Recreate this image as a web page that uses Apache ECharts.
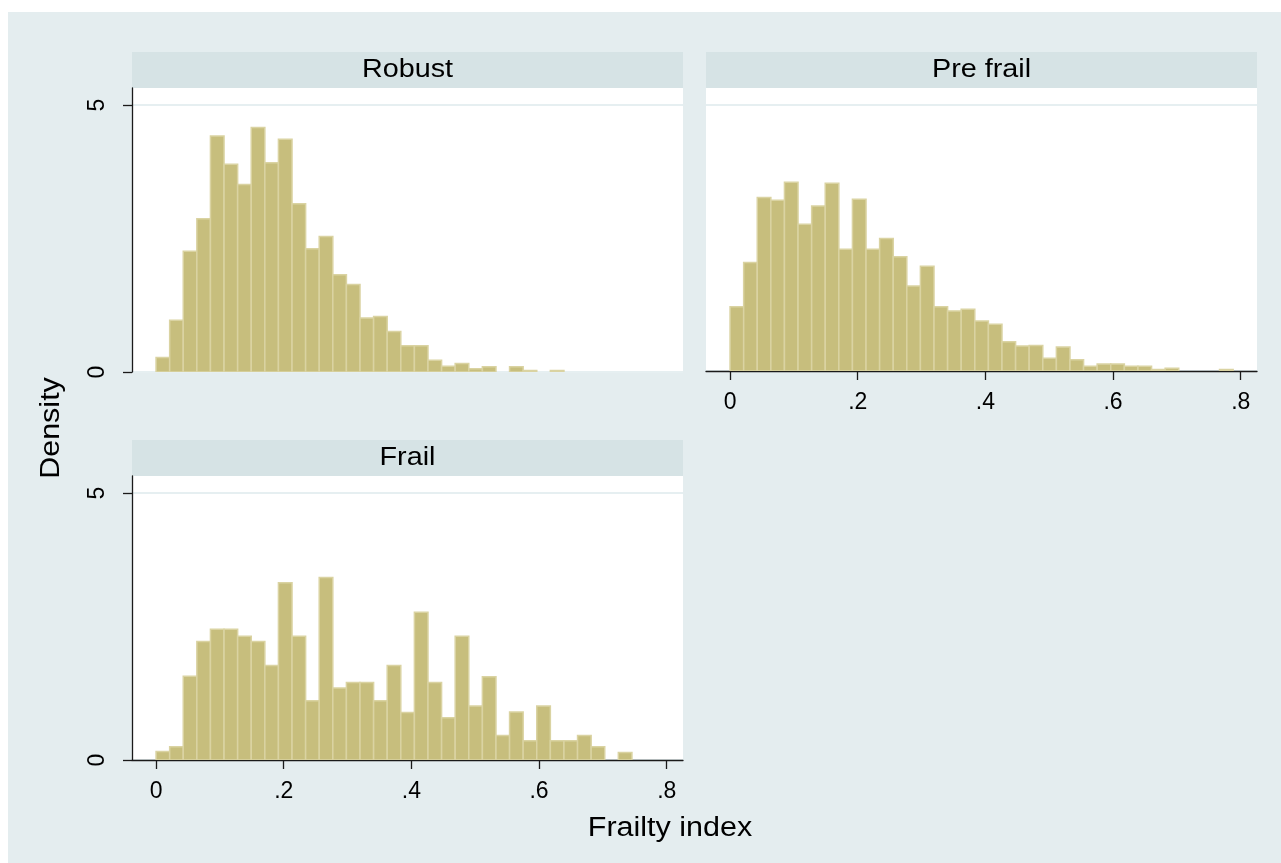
<!DOCTYPE html>
<html>
<head>
<meta charset="utf-8">
<script src="https://cdn.jsdelivr.net/npm/echarts@6/dist/echarts.min.js"></script>
<style>
html,body{margin:0;padding:0;background:#fff;}
#chart{width:1281px;height:863px;}
</style>
</head>
<body>
<div id="chart"></div>
<script>
// ---- data ----
const panelTitles = ['Robust', 'Pre frail', 'Frail'];
const xTitle = 'Frailty index';
const yTitle = 'Density';
const binWidth = 0.0213;
const binStart = 0;
const robust = [0.27,0.97,2.26,2.87,4.42,3.89,3.51,4.58,3.92,4.36,3.15,2.31,2.54,1.82,1.64,1.01,1.04,0.76,0.49,0.49,0.22,0.11,0.16,0.06,0.10,0,0.10,0.03,0,0.03];
const preFrail = [1.21,2.04,3.26,3.21,3.55,2.76,3.10,3.53,2.29,3.23,2.29,2.49,2.15,1.60,1.97,1.21,1.13,1.16,0.94,0.88,0.55,0.47,0.48,0.24,0.45,0.21,0.09,0.13,0.13,0.09,0.09,0.03,0.05,0,0,0,0.03];
const frail = [0.16,0.25,1.57,2.22,2.45,2.45,2.32,2.22,1.77,3.32,2.32,1.11,3.42,1.35,1.45,1.45,1.11,1.77,0.89,2.77,1.45,0.79,2.32,1.01,1.56,0.46,0.90,0.36,1.01,0.36,0.36,0.46,0.25,0,0.14];
const xTicks = [0, 0.2, 0.4, 0.6, 0.8];
const xTickLabels = ['0', '.2', '.4', '.6', '.8'];
const yTicks = [0, 5];

// ---- build ----
function toBins(arr){
  const out = [];
  arr.forEach((v,i)=>{ if(v>0){ const x0 = binStart + i*binWidth; out.push([x0, x0+binWidth, v]); } });
  return out;
}
const FONT = '"Liberation Sans", Arial, sans-serif';
const BAR_FILL = '#c7be7d';
const BAR_STROKE = '#dad3a2';
const AXIS_COLOR = '#1a1a1a';

const grids = [
  {left:132, top:88, width:551, height:284},
  {left:706, top:88, width:551, height:283},
  {left:132, top:476, width:551, height:284}
].map(g => Object.assign({show:true, backgroundColor:'#ffffff', borderWidth:0, containLabel:false}, g));

function xAxisFor(i, visible){
  return {
    type:'value', gridIndex:i, min:-0.0377, max:0.8255,
    axisLine:{show:visible, onZero:false, lineStyle:{color:AXIS_COLOR, width:1.3}},
    axisTick:{show:visible, length:9, customValues:xTicks, lineStyle:{color:AXIS_COLOR, width:1.3}},
    axisLabel:{show:visible, customValues:xTicks, margin:20, fontSize:23, fontFamily:FONT, color:'#000',
      formatter:(v)=>{ const k = xTicks.findIndex(t=>Math.abs(t-v)<1e-9); return k>=0 ? xTickLabels[k] : ''; }},
    splitLine:{show:false}
  };
}
function yAxisFor(i, visible){
  return {
    type:'value', gridIndex:i, min:0, max:5.32, interval:5,
    axisLine:{show:visible, onZero:false, lineStyle:{color:AXIS_COLOR, width:1.3}},
    axisTick:{show:visible, length:9, customValues:yTicks, lineStyle:{color:AXIS_COLOR, width:1.3}},
    axisLabel:{show:visible, customValues:yTicks, rotate:90, align:'center', verticalAlign:'bottom', margin:23,
      fontSize:23, fontFamily:FONT, color:'#000'},
    splitLine:{show:true, lineStyle:{color:'#e6eff1', width:2}}
  };
}

function renderBar(params, api){
  const p0 = api.coord([api.value(0), api.value(2)]);
  const p1 = api.coord([api.value(1), 0]);
  return {
    type:'rect',
    shape:{x:p0[0], y:p0[1], width:p1[0]-p0[0], height:p1[1]-p0[1]},
    style:{fill:BAR_FILL, stroke:BAR_STROKE, lineWidth:1.5}
  };
}

const seriesData = [robust, preFrail, frail];
const series = seriesData.map((arr,i)=>({
  type:'custom', xAxisIndex:i, yAxisIndex:i, renderItem:renderBar,
  encode:{x:[0,1], y:2}, data:toBins(arr), clip:true
}));

const strips = [
  {x:132, y:52, w:551}, {x:706, y:52, w:551}, {x:132, y:440, w:551}
];
const graphic = [
  {type:'rect', z:-10, shape:{x:8, y:12, width:1273, height:851}, style:{fill:'#e4edef'}}
];
strips.forEach((s,i)=>{
  graphic.push({type:'rect', z:-5, shape:{x:s.x, y:s.y, width:s.w, height:36}, style:{fill:'#d6e3e5'}});
  graphic.push({type:'text', z:5, x:s.x + s.w/2, y:s.y + 18, scaleX:1.15,
    style:{text:panelTitles[i], font:'25px ' + FONT, fill:'#000', align:'center', verticalAlign:'middle'}});
});
graphic.push({type:'text', z:5, x:670, y:829, scaleX:1.13,
  style:{text:xTitle, font:'27px ' + FONT, fill:'#000', align:'center', verticalAlign:'middle'}});
graphic.push({type:'text', z:5, x:52, y:428, rotation:Math.PI/2, scaleX:1.13,
  style:{text:yTitle, font:'27px ' + FONT, fill:'#000', align:'center', verticalAlign:'middle'}});

const option = {
  backgroundColor:'#ffffff',
  animation:false,
  grid:grids,
  xAxis:[xAxisFor(0,false), xAxisFor(1,true), xAxisFor(2,true)],
  yAxis:[yAxisFor(0,true), yAxisFor(1,false), yAxisFor(2,true)],
  series:series,
  graphic:graphic
};
const chart = echarts.init(document.getElementById('chart'), null, {renderer:'canvas'});
chart.setOption(option);
</script>
</body>
</html>
